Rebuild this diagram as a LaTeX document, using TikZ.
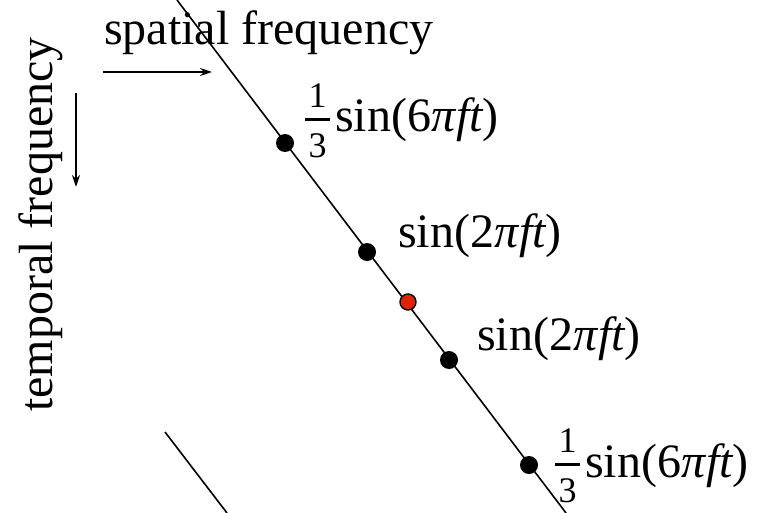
\documentclass[tikz,border=0pt]{standalone}
\usepackage{fontspec}
\setmainfont{Liberation Serif}
\usetikzlibrary{positioning, arrows.meta}
\definecolor{dotred}{RGB}{225,35,5}
\newcommand{\third}{\raisebox{-25pt}{\fontsize{36}{36}\selectfont\vbox{\offinterlineskip\halign{\hbox to 25pt{\hfil##\hfil}\cr 1\cr\noalign{\kern11pt\hrule height 3pt\kern12pt}3\cr}}}\kern5pt}

\begin{document}
\begin{tikzpicture}[
        x=1pt, y=-1pt,
        font=\fontsize{48}{56}\selectfont,
        dot/.style={circle, fill=black, inner sep=0pt, minimum size=18pt},
        reddot/.style={circle, draw=black, line width=1.4pt, fill=dotred, inner sep=0pt, minimum size=16pt},
        axis/.style={-{Stealth[length=12pt, width=8pt]}, line width=1.6pt},
        line/.style={line width=1.6pt},
        lbl/.style={inner sep=0pt, anchor=base west}
    ]
    \useasboundingbox (0,0) rectangle (759,513);
    
    % Axes
    \node[lbl] (spatial) at (104,45) {spatial frequency};
    \node[lbl, rotate=90] (temporal) at (52,412) {temporal frequency};
    \coordinate (sa) at (103,72);
    \coordinate (sb) at (212,72);
    \coordinate (ta) at (76,93);
    \coordinate (tb) at (76,187);
    \draw[axis] (sa) -- (sb);
    \draw[axis] (ta) -- (tb);
    
    % Lines
    \coordinate (top) at (177,0);
    \coordinate (bot) at (566,513);
    \coordinate (ltop) at (165,432);
    \coordinate (lbot) at (227,513);
    \draw[line] (top) -- (bot);
    \draw[line] (ltop) -- (lbot);
    
    % Dots
    \node[dot] (d1) at (285,143) {};
    \node[dot] (d2) at (367,252) {};
    \node[reddot] (r) at (408,302) {};
    \node[dot] (d3) at (449,360) {};
    \node[dot] (d4) at (529,465) {};
    
    % Labels
    \node[lbl] (l1) at ([xshift=20pt, yshift=11pt]d1.center) {\third sin(6{\itshape π\kern1pt ft})};
    \node[lbl] (l2) at ([xshift=31pt, yshift=5pt]d2.center) {sin(2{\itshape π\kern1pt ft})};
    \node[lbl] (l3) at ([xshift=28pt, yshift=10pt]d3.center) {sin(2{\itshape π\kern1pt ft})};
    \node[lbl] (l4) at ([xshift=26pt, yshift=-12pt]d4.center) {\third sin(6{\itshape π\kern1pt ft})};
    
\end{tikzpicture}
\end{document}
